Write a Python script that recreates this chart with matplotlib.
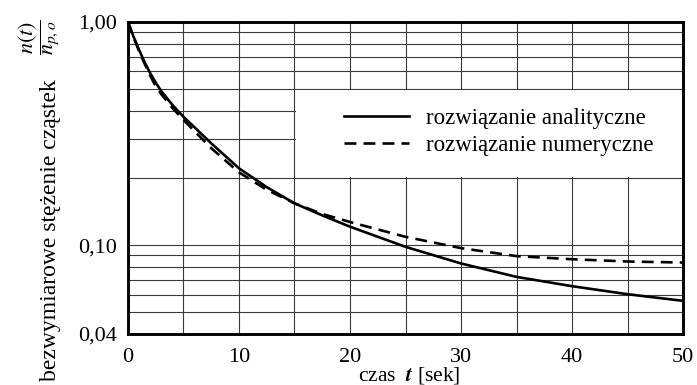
import matplotlib
matplotlib.use("Agg")
import matplotlib.pyplot as plt
from matplotlib.patches import Rectangle
from matplotlib.ticker import FixedLocator, NullFormatter

plt.rcParams["font.family"] = ["Liberation Serif", "DejaVu Serif"]
plt.rcParams["mathtext.fontset"] = "stix"

# values (t in s, dimensionless concentration n(t)/n_p,o)
t_anal = [0, 0.5, 1, 1.5, 2, 2.5, 3, 4, 5, 7.5, 10, 12.5, 15, 17.5, 20, 25, 30, 35, 40, 45, 50]
n_anal = [1.0, 0.86, 0.75, 0.66, 0.59, 0.535, 0.49, 0.425, 0.376, 0.286, 0.221, 0.182, 0.154,
          0.136, 0.121, 0.0983, 0.0828, 0.0721, 0.0655, 0.0603, 0.0563]
t_num = [0, 0.5, 1, 1.5, 2, 2.5, 3, 4, 5, 7.5, 10, 12.5, 15, 17.5, 20, 25, 30, 35, 40, 45, 50]
n_num = [1.0, 0.855, 0.74, 0.65, 0.575, 0.515, 0.475, 0.412, 0.364, 0.272, 0.212, 0.177, 0.154,
         0.138, 0.127, 0.109, 0.097, 0.0893, 0.0865, 0.0845, 0.0836]

x_major = [0, 10, 20, 30, 40, 50]
x_minor = [5, 15, 25, 35, 45]
y_major = [0.04, 0.10, 1.00]
y_major_labels = ["0,04", "0,10", "1,00"]
y_minor = [0.05, 0.06, 0.07, 0.08, 0.09, 0.2, 0.3, 0.4, 0.5, 0.6, 0.7, 0.8, 0.9]

fig = plt.figure(figsize=(6.97, 3.85), dpi=100)
ax = fig.add_axes([0.1836, 0.1325, 0.7964, 0.8104])

ax.plot(t_anal, n_anal, "-", color="black", lw=1.9, label="rozwiązanie analityczne", zorder=4)
ax.plot(t_num, n_num, "--", color="black", lw=1.9, dashes=(4.5, 2.7),
        label="rozwiązanie numeryczne", zorder=4)

ax.set_yscale("log")
ax.set_xlim(0, 50)
ax.set_ylim(0.04, 1.0)
ax.xaxis.set_major_locator(FixedLocator(x_major))
ax.xaxis.set_minor_locator(FixedLocator(x_minor))
ax.set_xticklabels([str(v) for v in x_major])
ax.yaxis.set_major_locator(FixedLocator(y_major))
ax.yaxis.set_minor_locator(FixedLocator(y_minor))
ax.set_yticklabels(y_major_labels)
ax.yaxis.set_minor_formatter(NullFormatter())
ax.tick_params(which="both", length=0, labelsize=16)
ax.tick_params(axis="y", pad=8)
ax.tick_params(axis="x", pad=10)
ax.grid(True, which="both", color="#3a3a3a", lw=0.8)
ax.set_axisbelow(True)
for sp in ax.spines.values():
    sp.set_linewidth(2.1)

# white area behind the legend, aligned with the grid cells
ax.add_patch(Rectangle((15.15, 0.2 * 1.012), 50 - 15.15, 0.5 / 1.012 - 0.2 * 1.012,
                       facecolor="white", edgecolor="none", zorder=2))

ax.legend(loc="center left", bbox_to_anchor=(0.352, 0.646), frameon=False, fontsize=16.5,
          handlelength=2.85, handletextpad=0.72, labelspacing=0.26)

ax.set_xlabel(r"czas  $\mathbfit{t}$ [sek]", fontsize=15.5)
ax.xaxis.set_label_coords(0.506, -0.1)
ax.set_ylabel("bezwymiarowe stężenie cząstek", fontsize=17)
ax.yaxis.set_label_coords(-0.12, 0.333)

fig.text(39 / 697, 1 - 37 / 385, r"$\dfrac{n(t)}{n_{p,o}}$", rotation=90,
         ha="center", va="center", fontsize=16)

fig.savefig("out.png", dpi=100)
